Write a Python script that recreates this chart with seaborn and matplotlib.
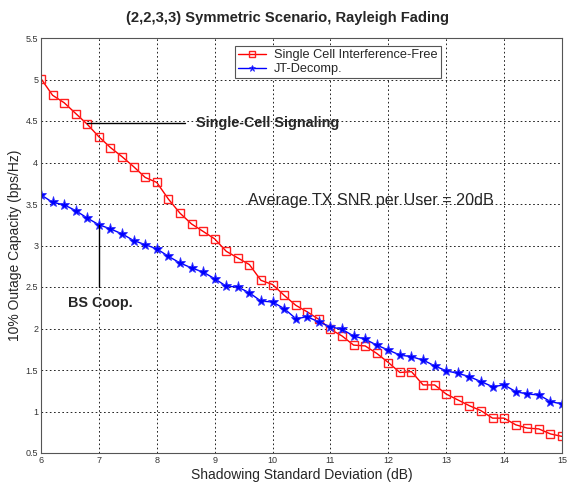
import numpy as np
import pandas as pd
import matplotlib
matplotlib.use("Agg")
import matplotlib.pyplot as plt
import seaborn as sns

sigma_db = [6.0, 6.2, 6.4, 6.6, 6.8, 7.0, 7.2, 7.4, 7.6, 7.8,
            8.0, 8.2, 8.4, 8.6, 8.8, 9.0, 9.2, 9.4, 9.6, 9.8,
            10.0, 10.2, 10.4, 10.6, 10.8, 11.0, 11.2, 11.4, 11.6, 11.8,
            12.0, 12.2, 12.4, 12.6, 12.8, 13.0, 13.2, 13.4, 13.6, 13.8,
            14.0, 14.2, 14.4, 14.6, 14.8, 15.0]

single_cell = [5.01, 4.81, 4.72, 4.59, 4.46, 4.31, 4.18, 4.07, 3.95, 3.82,
               3.76, 3.56, 3.39, 3.26, 3.17, 3.08, 2.93, 2.85, 2.77, 2.58,
               2.53, 2.40, 2.28, 2.20, 2.11, 1.99, 1.91, 1.80, 1.79, 1.70,
               1.59, 1.47, 1.48, 1.32, 1.32, 1.21, 1.14, 1.07, 1.01, 0.92,
               0.92, 0.84, 0.80, 0.79, 0.73, 0.70]

jt_decomp = [3.61, 3.52, 3.49, 3.42, 3.33, 3.25, 3.20, 3.14, 3.06, 3.01,
             2.96, 2.87, 2.79, 2.73, 2.68, 2.60, 2.51, 2.50, 2.43, 2.33,
             2.32, 2.24, 2.12, 2.14, 2.08, 2.02, 1.99, 1.91, 1.87, 1.80,
             1.74, 1.68, 1.66, 1.62, 1.55, 1.49, 1.46, 1.42, 1.36, 1.30,
             1.32, 1.24, 1.21, 1.20, 1.12, 1.09]

series_names = ["Single Cell Interference-Free", "JT-Decomp."]
x_ticks = [6, 7, 8, 9, 10, 11, 12, 13, 14, 15]
y_ticks = [0.5, 1, 1.5, 2, 2.5, 3, 3.5, 4, 4.5, 5, 5.5]

df_sc = pd.DataFrame({"x": sigma_db, "y": single_cell})
df_jt = pd.DataFrame({"x": sigma_db, "y": jt_decomp})

sns.set_style("white")
plt.rcParams["font.family"] = ["Liberation Sans", "DejaVu Sans"]

fig = plt.figure(figsize=(5.73, 4.83), dpi=100)
ax = fig.add_axes([41/573, 1-453/483, (562-41)/573, (453-38)/483])

sns.lineplot(data=df_sc, x="x", y="y", ax=ax, color="#ff0000", lw=1.0,
             marker="s", markersize=5.6, markerfacecolor="none",
             markeredgecolor="#ff2020", markeredgewidth=1.0,
             label=series_names[0])
sns.lineplot(data=df_jt, x="x", y="y", ax=ax, color="#0000ff", lw=1.0,
             marker="*", markersize=8, markerfacecolor="#0000ff",
             markeredgecolor="#3030ff", markeredgewidth=0.6,
             label=series_names[1])

ax.set_xlim(6, 15)
ax.set_ylim(0.5, 5.5)
ax.set_xticks(x_ticks)
ax.set_yticks(y_ticks)
ax.set_xticklabels([str(t) for t in x_ticks])
ax.set_yticklabels(["0.5", "1", "1.5", "2", "2.5", "3", "3.5", "4", "4.5", "5", "5.5"])
ax.tick_params(axis="both", labelsize=6.5, direction="in", length=3, color="#333333",
               labelcolor="#333333", pad=2)
ax.grid(True, color="black", linestyle=(0, (2, 3)), linewidth=0.6)
for s in ax.spines.values():
    s.set_color("#555555")
    s.set_linewidth(0.8)

ax.set_xlabel("Shadowing Standard Deviation (dB)", fontsize=10, labelpad=2)
ax.set_ylabel("10% Outage Capacity (bps/Hz)", fontsize=10, labelpad=3)
fig.text(287/573, 1-18/483, "(2,2,3,3) Symmetric Scenario, Rayleigh Fading",
         ha="center", va="center", fontsize=10.6, fontweight="bold")

# annotations
ax.plot([6.8, 8.48], [4.47, 4.47], color="black", lw=1.0)
ax.text(8.68, 4.475, "Single-Cell Signaling", fontsize=10.4, fontweight="bold",
        va="center", ha="left")
ax.plot([7.0, 7.0], [3.25, 2.5], color="black", lw=1.0)
ax.text(7.02, 2.31, "BS Coop.", fontsize=10.4, fontweight="bold",
        va="center", ha="center")
ax.text(9.58, 3.54, "Average TX SNR per User = 20dB", fontsize=11.6,
        va="center", ha="left")

leg = ax.legend(loc="upper left", bbox_to_anchor=((235-41)/521, 1-(46-38)/415),
                fontsize=9.2, frameon=True, fancybox=False, borderaxespad=0,
                handlelength=2.2, borderpad=0.25, labelspacing=0.15,
                handletextpad=0.6, framealpha=1)
leg.get_frame().set_edgecolor("#555555")
leg.get_frame().set_linewidth(0.8)
for h in leg.legend_handles:
    h.set_markersize(5)

fig.savefig("out.png", dpi=100, facecolor="white")
